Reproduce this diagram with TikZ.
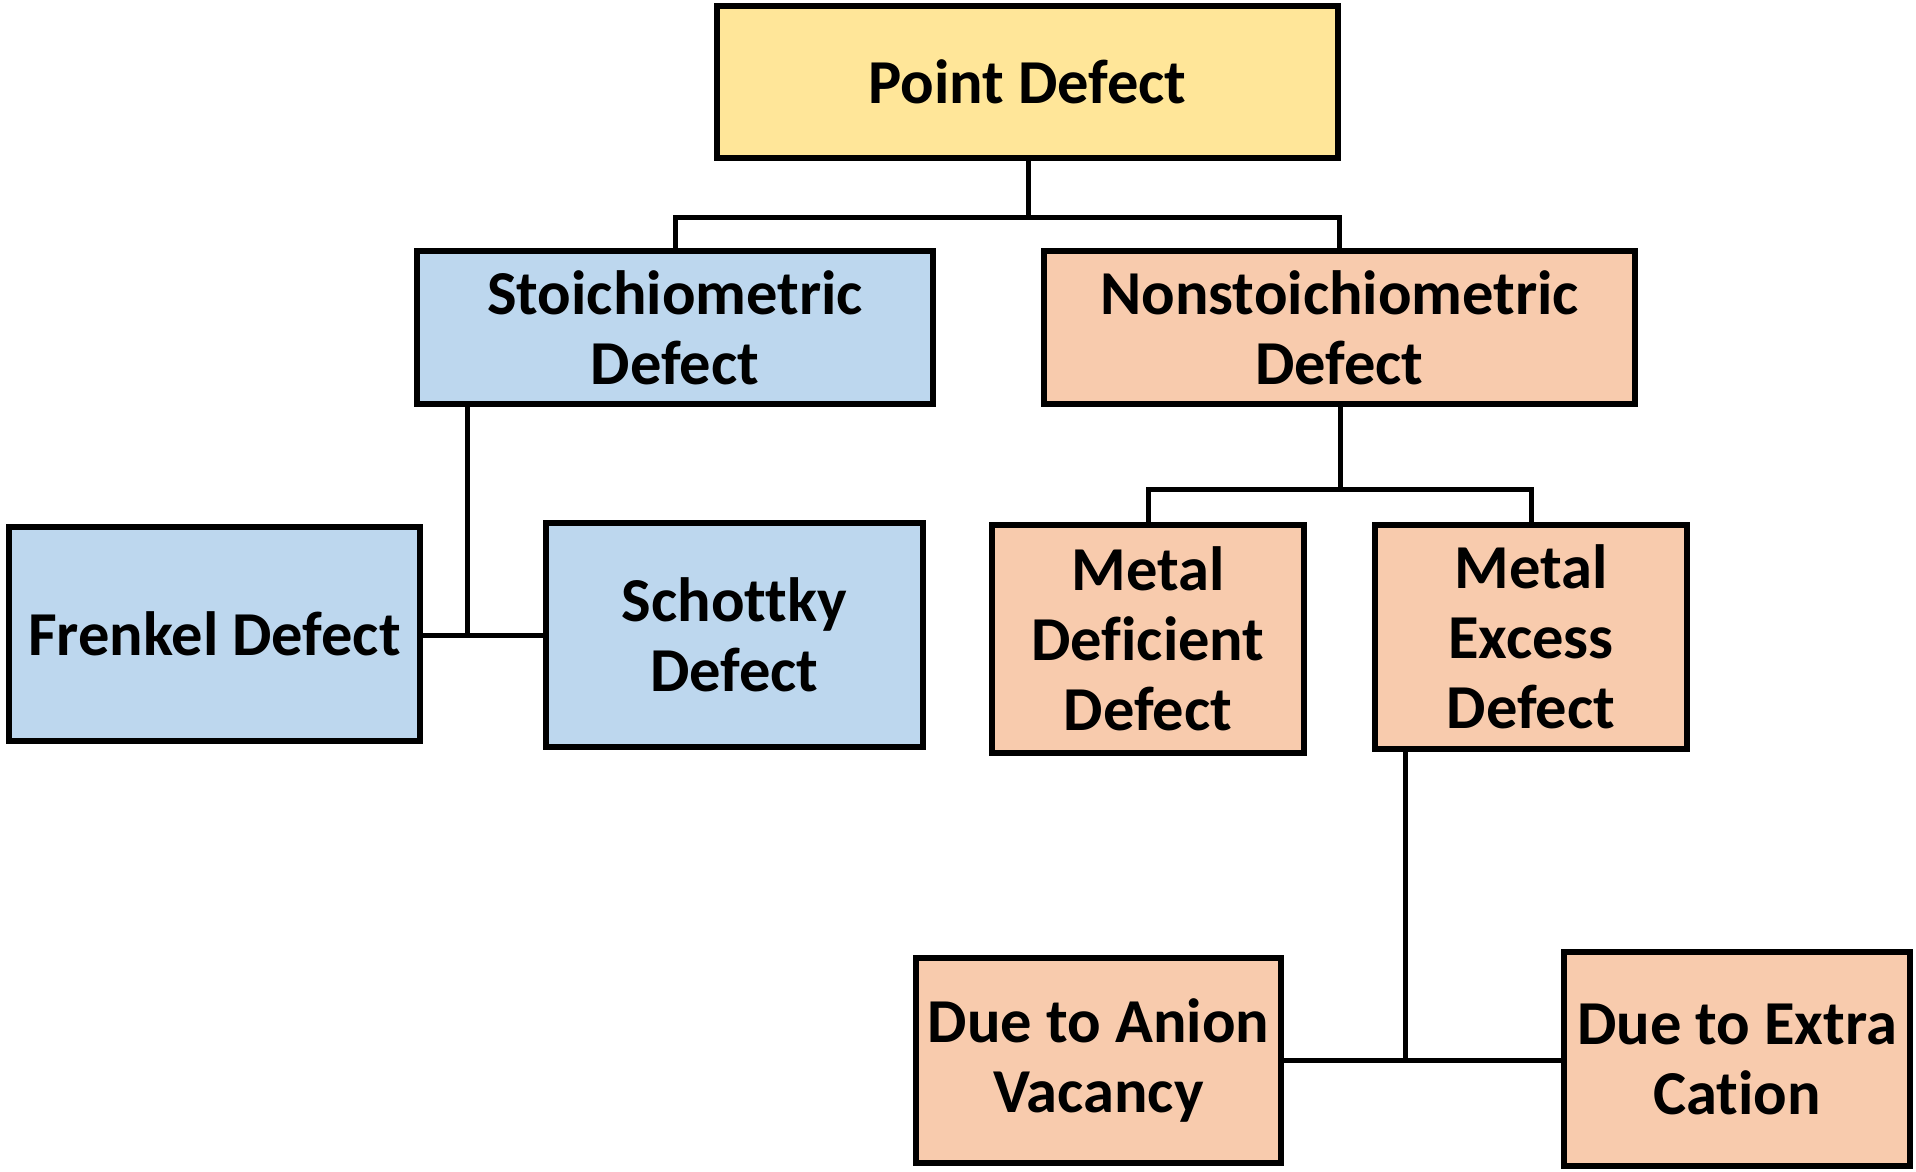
\documentclass[tikz,border=0pt]{standalone}
\usepackage{fontspec}
\setmainfont{Carlito}[Ligatures=NoCommon]
\definecolor{cyellow}{HTML}{FFE699}
\definecolor{cblue}{HTML}{BDD7EE}
\definecolor{corange}{HTML}{F8CBAD}
\begin{document}
\begin{tikzpicture}[x=1pt,y=-1pt,
  box/.style={draw=black,line width=6.5pt,rectangle,inner sep=0pt,align=center,
    font=\fontsize{62.5}{70}\selectfont\bfseries,text=black},
  conn/.style={draw=black,line width=5pt}]
\useasboundingbox (0,0) rectangle (1916,1171);
\fill[white] (0,0) rectangle (1916,1171);

\node[box,fill=cyellow,minimum width=621pt,minimum height=152pt] (point) at (1027.5,82) {Point Defect};
\node[box,fill=cblue,minimum width=516pt,minimum height=153pt] (stoich) at (675,327.5) {Stoichiometric\\Defect};
\node[box,fill=corange,minimum width=591pt,minimum height=153pt] (nonst) at (1339.5,327.5) {Nonstoichiometric\\Defect};
\node[box,fill=cblue,minimum width=411pt,minimum height=214pt] (frenkel) at (214.5,634) {Frenkel Defect};
\node[box,fill=cblue,minimum width=377pt,minimum height=224pt] (schottky) at (734.5,635) {Schottky\\Defect};
\node[box,fill=corange,minimum width=312pt,minimum height=228pt] (mdef) at (1148,639) {Metal\\Deficient\\Defect};
\node[box,fill=corange,minimum width=312pt,minimum height=224pt] (mexc) at (1531,637) {Metal\\Excess\\Defect};
\node[box,fill=corange,minimum width=365pt,minimum height=205pt] (anion) at (1098.5,1060.5) {Due to Anion\\Vacancy};
\node[box,fill=corange,minimum width=346pt,minimum height=214pt] (extra) at (1737,1059) {Due to Extra\\Cation};

\coordinate (j1) at (1028,217);
\coordinate (j2) at (467,635);
\coordinate (j3) at (1340,489);
\coordinate (j4) at (1405,1060);

\draw[conn] (point.south -| j1) -- (j1);
\draw[conn] (stoich.north) |- (j1) -| (nonst.north);
\draw[conn] (stoich.south -| j2) -- (j2);
\draw[conn] (frenkel.east |- j2) -- (schottky.west |- j2);
\draw[conn] (nonst.south -| j3) -- (j3);
\draw[conn] (mdef.north) |- (j3) -| (mexc.north);
\draw[conn] (mexc.south -| j4) -- (j4);
\draw[conn] (anion.east |- j4) -- (extra.west |- j4);
\end{tikzpicture}
\end{document}
